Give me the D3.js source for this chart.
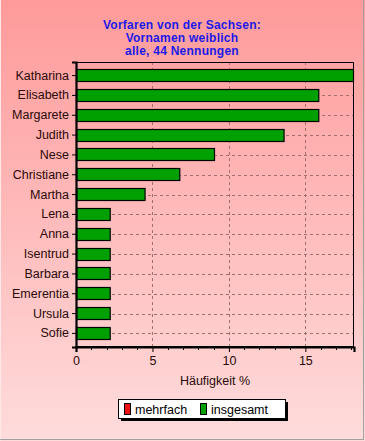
<!DOCTYPE html>
<html>
<head>
<meta charset="utf-8">
<script src="https://cdn.jsdelivr.net/npm/d3@7/dist/d3.min.js"></script>
<style>
  body { margin: 0; background: #fff; }
  svg { display: block; font-family: "Liberation Sans", Arial, sans-serif; }
</style>
</head>
<body>
<svg id="chart"></svg>
<script>
// data: share of each first name in percent (44 mentions)
const names = ["Katharina", "Elisabeth", "Margarete", "Judith", "Nese", "Christiane", "Martha",
  "Lena", "Anna", "Isentrud", "Barbara", "Emerentia", "Ursula", "Sofie"];
const totalValues = [18.18, 15.91, 15.91, 13.64, 9.09, 6.82, 4.55,
  2.27, 2.27, 2.27, 2.27, 2.27, 2.27, 2.27];
const xTicks = [0, 5, 10, 15];
const titleLines = ["Vorfaren von der Sachsen:", "Vornamen weiblich", "alle, 44 Nennungen"];
const legendItems = [
  { label: "mehrfach", color: "#ee1111" },
  { label: "insgesamt", color: "#00a000" }
];

const width = 365, height = 441;
const margin = { top: 62, right: 11, bottom: 94, left: 76 };

const svg = d3.select("#chart").attr("width", width).attr("height", height);
const defs = svg.append("defs");

// pink background gradient
const bg = defs.append("linearGradient")
  .attr("id", "bgGradient")
  .attr("x1", "0%").attr("y1", "0%")
  .attr("x2", "0%").attr("y2", "100%");
bg.append("stop").attr("offset", "0%").attr("stop-color", "#ff9a9a");
bg.append("stop").attr("offset", "100%").attr("stop-color", "#ffdcdc");

svg.append("rect")
  .attr("width", width).attr("height", height)
  .attr("fill", "url(#bgGradient)");

// frame: light on top/left, grey on right/bottom
svg.append("line").attr("x1", 0.5).attr("x2", 0.5).attr("y1", 0).attr("y2", height)
  .attr("stroke", "#ffe8e8");
svg.append("line").attr("x1", width - 1.5).attr("x2", width - 1.5).attr("y1", 0).attr("y2", height - 1)
  .attr("stroke", "#a0a0a0");
svg.append("line").attr("x1", 0).attr("x2", width - 1).attr("y1", height - 1.5).attr("y2", height - 1.5)
  .attr("stroke", "#a0a0a0");

// title
svg.append("g")
  .selectAll("text")
  .data(titleLines)
  .join("text")
  .attr("x", 182)
  .attr("y", (d, i) => 29 + i * 13)
  .attr("text-anchor", "middle")
  .attr("fill", "#1a1ae6")
  .style("font-size", "12px")
  .style("letter-spacing", "0.25px")
  .style("font-weight", "bold")
  .text(d => d);

// scales
const xScale = d3.scaleLinear()
  .domain([0, d3.max(totalValues)])
  .range([margin.left, width - margin.right]);

const yScale = d3.scaleBand()
  .domain(names)
  .range([margin.top, height - margin.bottom])
  .paddingInner(0.35)
  .paddingOuter(0.36);

const plotTop = margin.top, plotBottom = height - margin.bottom;
const plotLeft = margin.left, plotRight = width - margin.right;

// grid lines (dashed)
const grid = svg.append("g").attr("stroke", "#a07070").attr("stroke-dasharray", "3,3");
grid.selectAll("line.v")
  .data(xTicks.filter(d => d > 0))
  .join("line")
  .attr("class", "v")
  .attr("x1", d => Math.round(xScale(d)) + 0.5)
  .attr("x2", d => Math.round(xScale(d)) + 0.5)
  .attr("y1", plotTop)
  .attr("y2", plotBottom);
grid.selectAll("line.h")
  .data(names)
  .join("line")
  .attr("class", "h")
  .attr("x1", plotLeft)
  .attr("x2", plotRight)
  .attr("y1", d => Math.round(yScale(d) + yScale.bandwidth() / 2) + 0.5)
  .attr("y2", d => Math.round(yScale(d) + yScale.bandwidth() / 2) + 0.5);

// bars
svg.append("g")
  .selectAll("rect")
  .data(names)
  .join("rect")
  .attr("x", xScale(0) + 0.5)
  .attr("y", d => Math.round(yScale(d)) + 0.5)
  .attr("width", (d, i) => Math.max(0, xScale(totalValues[i]) - xScale(0) - 1))
  .attr("height", Math.round(yScale.bandwidth()) - 1)
  .attr("fill", "#00a000")
  .attr("stroke", "#000")
  .attr("stroke-width", 1.2);

// plot border: thin top/right, thick left/bottom
svg.append("rect")
  .attr("x", plotLeft + 0.5).attr("y", plotTop + 0.5)
  .attr("width", plotRight - plotLeft - 1).attr("height", plotBottom - plotTop - 1)
  .attr("fill", "none").attr("stroke", "#000");

// y axis
const yAxis = g => {
  g.attr("transform", `translate(${plotLeft}, 0)`)
    .call(d3.axisLeft(yScale).tickSize(4).tickPadding(3));
  g.select(".domain").attr("stroke-width", 2.2);
  g.selectAll(".tick text")
    .style("font-size", "12.5px")
    .style("font-family", `"Liberation Sans", Arial, sans-serif`)
    .attr("fill", "#2a0a0a");
  return g;
};
svg.append("g").call(yAxis);

// x axis with minor ticks
const xAxis = g => {
  g.attr("transform", `translate(0, ${plotBottom})`)
    .call(d3.axisBottom(xScale).tickValues(xTicks).tickSize(5).tickPadding(4).tickFormat(d3.format("d")));
  g.select(".domain").attr("stroke-width", 2.2);
  g.selectAll(".tick text")
    .style("font-size", "12.5px")
    .style("font-family", `"Liberation Sans", Arial, sans-serif`)
    .attr("fill", "#2a0a0a");
  return g;
};
svg.append("g").call(xAxis);

svg.append("g")
  .attr("transform", `translate(0, ${plotBottom})`)
  .selectAll("line")
  .data(d3.range(1, 19).filter(d => d % 5 !== 0))
  .join("line")
  .attr("x1", d => Math.round(xScale(d)) + 0.5)
  .attr("x2", d => Math.round(xScale(d)) + 0.5)
  .attr("y1", 0)
  .attr("y2", 3)
  .attr("stroke", "#000");

// x label
svg.append("text")
  .attr("x", 215)
  .attr("y", 385)
  .attr("text-anchor", "middle")
  .attr("fill", "#2a0a0a")
  .style("font-size", "12.5px")
  .text("Häufigkeit %");

// legend
const legend = svg.append("g").attr("transform", "translate(118, 399)");
legend.append("rect")
  .attr("x", 3).attr("y", 3).attr("width", 167).attr("height", 19)
  .attr("fill", "#000");
legend.append("rect")
  .attr("x", 0.5).attr("y", 0.5).attr("width", 167).attr("height", 19)
  .attr("fill", "#fff").attr("stroke", "#000");

const legendItem = legend.selectAll("g.item")
  .data(legendItems)
  .join("g")
  .attr("class", "item")
  .attr("transform", (d, i) => `translate(${6 + i * 76}, 0)`);
legendItem.append("rect")
  .attr("x", 0.5).attr("y", 4.5).attr("width", 6).attr("height", 11)
  .attr("fill", d => d.color).attr("stroke", "#000");
legendItem.append("text")
  .attr("x", 11)
  .attr("y", 14.5)
  .attr("fill", "#000")
  .style("font-size", "12.5px")
  .text(d => d.label);
</script>
</body>
</html>
